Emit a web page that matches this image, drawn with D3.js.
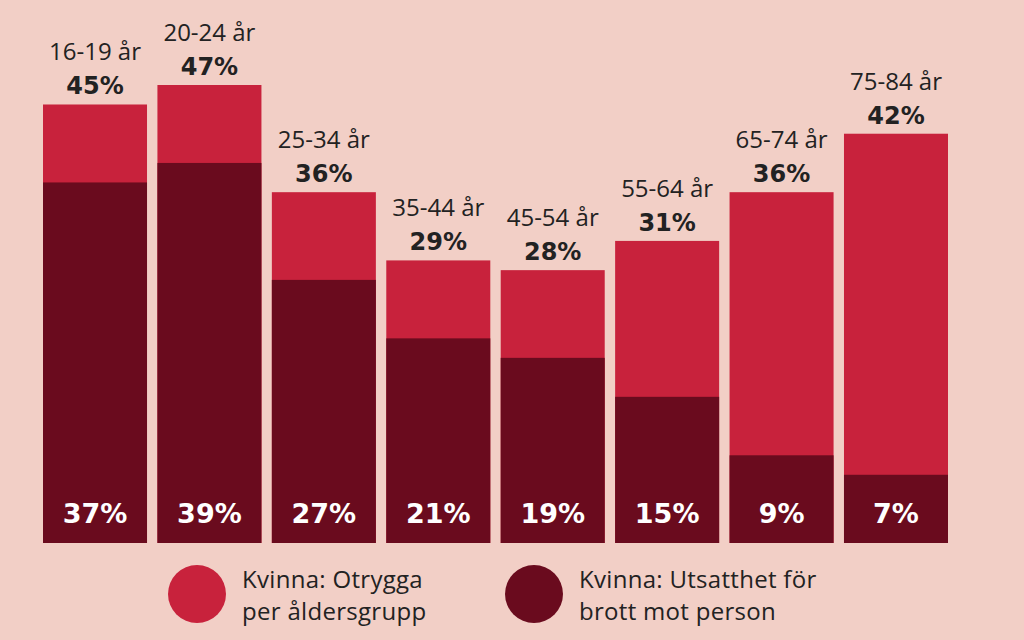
<!DOCTYPE html>
<html lang="sv">
<head>
    <meta charset="UTF-8">
    <title>Otrygghet och utsatthet</title>
    <style>
        html, body { margin: 0; padding: 0; background: #f2cfc6; }
        svg { display: block; font-family: "Open Sans", "Noto Sans", sans-serif; }
        .age { font-size: 24px; fill: #222; }
        .pct { font-family: "DejaVu Sans", sans-serif; font-size: 24px; font-weight: 700; fill: #222; }
        .inner { font-family: "DejaVu Sans", sans-serif; font-size: 27px; font-weight: 700; fill: #fff; }
        .legend text { font-size: 24px; letter-spacing: 0.3px; fill: #222; }
    </style>
</head>
<body>
    <script src="https://cdn.jsdelivr.net/npm/d3@7"></script>
    <script>

        var width = 1024,
            height = 640;

        var ages = ["16-19 år", "20-24 år", "25-34 år", "35-44 år", "45-54 år", "55-64 år", "65-74 år", "75-84 år"];
        var otrygga = [45, 47, 36, 29, 28, 31, 36, 42];
        var utsatta = [37, 39, 27, 21, 19, 15, 9, 7];
        var legendLabels = [["Kvinna: Otrygga", "per åldersgrupp"], ["Kvinna: Utsatthet för", "brott mot person"]];
        var colors = ["#c8223c", "#6a0b1e"];

        var svg = d3.select("body").append("svg")
            .attr("width", width)
            .attr("height", height);

        var x = d3.scaleBand()
            .domain(ages)
            .range([43, 948])
            .paddingInner(0.091)
            .paddingOuter(0);

        var y = d3.scaleLinear()
            .domain([0, 47])
            .range([543, 85]);

        var data = ages.map(function(a, i) {
            return { age: a, outer: otrygga[i], inner: utsatta[i] };
        });

        var bar = svg.selectAll("g.bar")
            .data(data)
            .enter().append("g")
            .attr("class", "bar")
            .attr("transform", function(d) { return "translate(" + x(d.age) + ",0)"; });

        bar.append("rect")
            .attr("y", function(d) { return y(d.outer); })
            .attr("width", x.bandwidth())
            .attr("height", function(d) { return y(0) - y(d.outer); })
            .attr("fill", colors[0]);

        bar.append("rect")
            .attr("y", function(d) { return y(d.inner); })
            .attr("width", x.bandwidth())
            .attr("height", function(d) { return y(0) - y(d.inner); })
            .attr("fill", colors[1]);

        bar.append("text")
            .attr("class", "age")
            .attr("x", x.bandwidth() / 2)
            .attr("y", function(d) { return y(d.outer) - 44; })
            .attr("text-anchor", "middle")
            .text(function(d) { return d.age; });

        bar.append("text")
            .attr("class", "pct")
            .attr("x", x.bandwidth() / 2)
            .attr("y", function(d) { return y(d.outer) - 10; })
            .attr("text-anchor", "middle")
            .text(function(d) { return d.outer + "%"; });

        bar.append("text")
            .attr("class", "inner")
            .attr("x", x.bandwidth() / 2)
            .attr("y", 523)
            .attr("text-anchor", "middle")
            .text(function(d) { return d.inner + "%"; });

        // legend
        var legendX = [197, 534];

        var legend = svg.selectAll("g.legend")
            .data(legendLabels)
            .enter().append("g")
            .attr("class", "legend")
            .attr("transform", function(d, i) { return "translate(" + legendX[i] + ",594)"; });

        legend.append("circle")
            .attr("r", 29)
            .attr("fill", function(d, i) { return colors[i]; });

        legend.append("text")
            .selectAll("tspan")
            .data(function(d) { return d; })
            .enter().append("tspan")
            .attr("x", 45)
            .attr("y", function(d, i) { return -6 + i * 32; })
            .text(function(d) { return d; });

    </script>
</body>
</html>
